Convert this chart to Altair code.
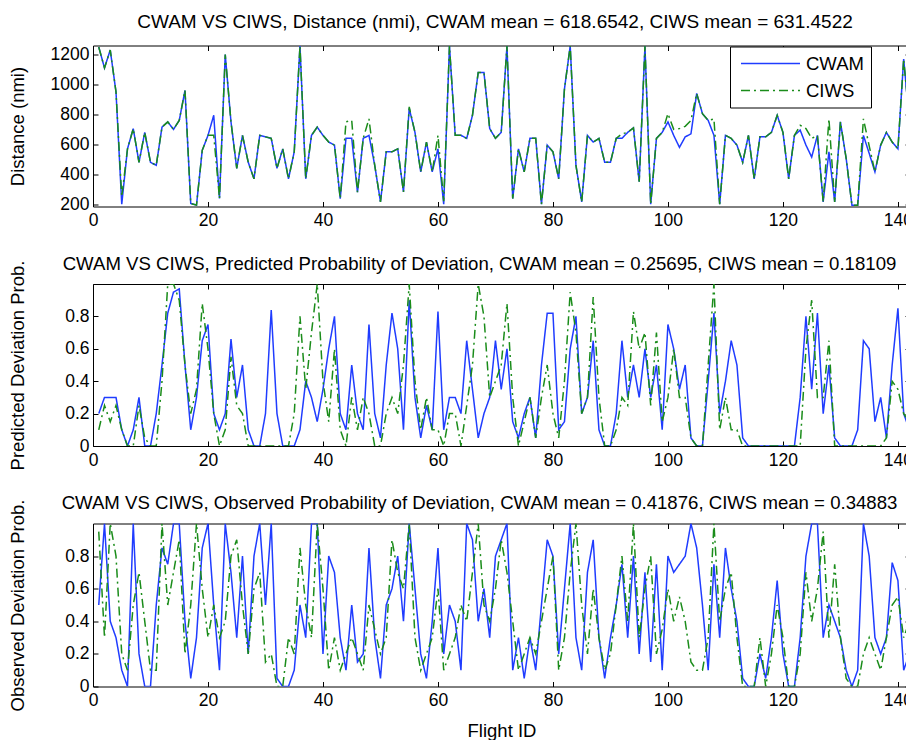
import altair as alt
import pandas as pd

flight = list(range(1, 143))

dist_cwam = [1250, 1110, 1230, 950, 200, 570, 705, 480, 680, 480, 460, 715, 750, 700, 760, 960, 205, 194, 560, 660,
             794, 238, 1200, 750, 440, 660, 480, 370, 660, 650, 640, 440, 570, 370, 550, 1256, 370, 660, 715, 660,
             615, 595, 238, 640, 640, 280, 640, 660, 460, 216, 550, 550, 570, 282, 840, 680, 416, 615, 416, 570,
             200, 1256, 660, 660, 640, 794, 1080, 1080, 705, 640, 680, 1256, 238, 570, 416, 640, 640, 200, 595, 550,
             370, 970, 1256, 460, 216, 660, 615, 640, 480, 480, 640, 640, 680, 710, 350, 1256, 200, 640, 680, 750,
             660, 580, 650, 670, 940, 805, 760, 660, 200, 660, 640, 595, 480, 660, 370, 650, 650, 680, 794, 680,
             370, 660, 695, 595, 515, 660, 216, 550, 216, 750, 505, 194, 194, 660, 540, 416, 595, 680, 615, 570,
             1170, 750]
dist_ciws = [1250, 1110, 1230, 950, 250, 570, 705, 480, 680, 480, 460, 715, 750, 700, 760, 960, 205, 194, 560, 660,
             660, 238, 1200, 750, 440, 660, 480, 370, 660, 650, 640, 440, 570, 370, 550, 1256, 370, 660, 715, 660,
             615, 595, 238, 750, 760, 280, 640, 770, 460, 216, 550, 550, 570, 282, 850, 680, 416, 615, 416, 660,
             220, 1256, 660, 660, 640, 794, 1080, 1080, 705, 640, 680, 1256, 238, 570, 416, 640, 640, 200, 595, 550,
             370, 970, 1256, 460, 216, 660, 615, 640, 480, 480, 640, 670, 680, 710, 350, 1256, 200, 640, 680, 805,
             700, 705, 720, 760, 940, 805, 760, 770, 200, 660, 640, 595, 480, 660, 370, 650, 650, 680, 794, 680,
             370, 660, 727, 705, 640, 660, 216, 770, 216, 750, 505, 194, 194, 770, 590, 416, 595, 680, 615, 570,
             1170, 750]

pred_cwam = [0.2, 0.3, 0.3, 0.3, 0.1, 0, 0.1, 0.3, 0, 0, 0.2, 0.5, 0.82, 0.95, 0.97, 0.5, 0.1, 0.3, 0.65, 0.75,
             0.2, 0.1, 0.2, 0.66, 0.3, 0.5, 0.1, 0, 0, 0.2, 0.84, 0.2, 0, 0, 0, 0.1, 0.4, 0.3, 0.15, 0.35,
             0.6, 0.8, 0.2, 0.1, 0.5, 0.2, 0.1, 0.75, 0.2, 0.05, 0.5, 0.82, 0.6, 0.1, 0.9, 0.3, 0.05, 0.25, 0.1, 0.83,
             0.1, 0.3, 0.3, 0.2, 0.65, 0.35, 0.05, 0.2, 0.3, 0.65, 0.35, 0.6, 0.15, 0.05, 0.2, 0.3, 0.05, 0.5, 0.82, 0.82,
             0.1, 0.15, 0.6, 0.8, 0.2, 0.3, 0.65, 0.1, 0, 0, 0.2, 0.65, 0.3, 0.5, 0.3, 0.6, 0.3, 0.5, 0.1, 0.75,
             0.6, 0.35, 0.5, 0.05, 0, 0, 0.4, 0.82, 0.2, 0.4, 0.65, 0.5, 0.05, 0, 0, 0, 0, 0, 0, 0,
             0, 0, 0.3, 0.8, 0.35, 0.82, 0.2, 0.5, 0.05, 0, 0, 0, 0.1, 0.65, 0.6, 0.15, 0.3, 0.05, 0.5, 0.85,
             0.2, 0.1]
pred_ciws = [0.1, 0.25, 0.15, 0.25, 0.1, 0, 0, 0.25, 0.05, 0, 0, 0.4, 1.0, 1.0, 0.9, 0.5, 0.2, 0.35, 0.88, 0.6,
             0.2, 0, 0.1, 0.55, 0.25, 0.2, 0, 0, 0, 0, 0, 0, 0, 0, 0.2, 0.8, 0.35, 0.7, 1.0, 0.4,
             0.15, 0.6, 0.1, 0, 0.3, 0.1, 0.3, 0.2, 0, 0, 0.2, 0.3, 0.2, 0.5, 1.0, 0.4, 0.1, 0.3, 0.1, 0.1,
             0, 0.2, 0.2, 0, 0.25, 0.5, 1.0, 0.8, 0.3, 0.4, 0.5, 0.88, 0.3, 0, 0.15, 0.3, 0.05, 0.3, 0.5, 0.2,
             0.05, 0.4, 0.95, 0.7, 0.2, 0.3, 0.92, 0.3, 0, 0, 0.1, 0.3, 0.25, 0.83, 0.6, 0.7, 0.25, 0.7, 0.15, 0.3,
             0.6, 0.3, 0.3, 0.05, 0, 0, 0.5, 1.0, 0.1, 0.3, 0.1, 0.1, 0, 0, 0, 0, 0, 0, 0, 0,
             0, 0, 0, 0.6, 0.9, 0.3, 0.3, 0.65, 0, 0, 0, 0, 0, 0, 0, 0, 0, 0.05, 0.4, 0.35,
             0.2, 0.15]

obs_cwam = [0.5, 1.0, 0.4, 0.3, 0.1, 0, 1.0, 0.2, 0, 0, 0.5, 0.85, 0.75, 1.0, 1.0, 0.4, 0.05, 0.3, 0.85, 1.0,
            0.5, 0.1, 1.0, 0.7, 0.3, 0.8, 0.2, 0.8, 1.0, 0.5, 1.0, 0.05, 0, 0, 0.1, 0.5, 0.3, 1.0, 1.0, 0.2,
            0.8, 0.7, 0.3, 0.1, 0.5, 0.15, 0.2, 0.85, 0.3, 0.05, 0.5, 0.6, 0.8, 0.4, 1.0, 0.6, 0.2, 0.05, 0.4, 0.85,
            0.2, 0.5, 0.4, 0.1, 1.0, 0.9, 0.4, 0.6, 0.3, 0.8, 0.9, 1.0, 0.1, 0.3, 0.05, 0.3, 0.1, 0.5, 0.9, 0.8,
            0.2, 0.6, 1.0, 0.3, 0.1, 0.7, 0.9, 0.3, 0.05, 0.3, 0.5, 0.75, 0.3, 0.8, 0.2, 0.7, 0.15, 0.75, 0.1, 0.8,
            0.7, 0.75, 0.8, 1.0, 0.85, 0.5, 0.1, 0.75, 0.3, 0.85, 0.6, 0.4, 0.05, 0, 0, 0.2, 0.05, 0.3, 0.65, 0.2,
            0, 0, 0.3, 0.8, 1.0, 1.0, 0.3, 0.5, 0.4, 0.3, 0.1, 0, 0.1, 1.0, 0.8, 0.3, 0.2, 0.3, 0.76, 0.65,
            0.1, 0.2]
obs_ciws = [0.95, 0.3, 1.0, 0.8, 0.2, 0.1, 0.5, 0.7, 0.4, 0.1, 0.1, 1.0, 0.5, 0.7, 0.9, 0.2, 0.5, 1.0, 0.6, 0.3,
            0.5, 0.3, 0.4, 0.8, 0.9, 0.5, 0.2, 0.6, 0.7, 0.15, 0.2, 0, 0, 0.3, 0.2, 0.85, 0.5, 0.3, 1.0, 0.6,
            0.1, 0.3, 0.1, 0.2, 0.3, 0.2, 0.1, 0.5, 0.35, 0.2, 0.3, 0.9, 0.7, 0.6, 1.0, 0.3, 0.1, 0.2, 0.3, 0.6,
            0.1, 0.2, 0.3, 0.5, 0.4, 0.7, 1.0, 0.5, 0.4, 0.6, 0.9, 0.7, 0.4, 0.1, 0.2, 0.3, 0.2, 0.4, 0.6, 0.8,
            0.1, 0.3, 0.7, 1.0, 0.5, 0.2, 0.6, 0.3, 0.1, 0.2, 0.5, 0.8, 0.4, 1.0, 0.3, 0.6, 0.8, 0.2, 0.35, 0.6,
            0.4, 0.55, 0.4, 0.15, 0.1, 0.1, 0.3, 1.0, 0.4, 0.6, 0.7, 0.3, 0, 0, 0, 0.3, 0, 0.2, 0.5, 0.3,
            0, 0, 0.2, 0.7, 0.4, 0.6, 0.95, 0.3, 0.75, 0.3, 0.05, 0, 0, 0.2, 0.3, 0.2, 0.1, 0.3, 0.5, 0.55,
            0.3, 0.4]

series_names = ["CWAM", "CIWS"]
series_colors = ["#1f3cff", "#1a8c1a"]
series_dash = [[1, 0], [9, 4, 2, 4]]

x_ticks = [0, 20, 40, 60, 80, 100, 120, 140]
dist_ticks = [200, 400, 600, 800, 1000, 1200]
prob_ticks = [0, 0.2, 0.4, 0.6, 0.8]

FONT = "Liberation Sans"
PLOT_W = 817
X_MAX = 142.1


def panel(cwam, ciws, title, title_x, title_y, title_size, ytitle, ydomain, yticks, yformat, height, legend,
          xtitle):
    df = pd.DataFrame({
        "flight": flight + flight,
        "value": cwam + ciws,
        "series": ["CWAM"] * len(flight) + ["CIWS"] * len(flight),
    })
    color = alt.Color("series:N", scale=alt.Scale(domain=series_names, range=series_colors), legend=legend)
    dash = alt.StrokeDash("series:N", scale=alt.Scale(domain=series_names, range=series_dash), legend=legend)
    xscale = alt.Scale(domain=[0, X_MAX], nice=False, zero=False)
    yscale = alt.Scale(domain=ydomain, nice=False, zero=False)
    bottom_kw = dict(values=x_ticks, orient="bottom", tickSize=5, offset=-5, domain=False, grid=False,
                     labelPadding=5, labelFlush=False, labelOverlap=False)
    if xtitle:
        x_bottom = alt.X("flight:Q", scale=xscale,
                         axis=alt.Axis(title=xtitle, titleY=55, titleBaseline="alphabetic", **bottom_kw))
    else:
        x_bottom = alt.X("flight:Q", scale=xscale, axis=alt.Axis(title=None, **bottom_kw))
    y_left = alt.Y("value:Q", scale=yscale,
                   axis=alt.Axis(values=yticks, orient="left", title=ytitle, format=yformat, tickSize=5,
                                 offset=-5, domain=False, grid=False, labelPadding=4, titleX=-74.5,
                                 titleY=height / 2, titleBaseline="alphabetic", titleAngle=270,
                                 titleAlign="center", labelFlush=False, labelOverlap=False))
    x_top = alt.X("flight:Q", scale=xscale,
                  axis=alt.Axis(values=x_ticks, orient="top", title=title, labels=False, tickSize=5, offset=-5,
                                domain=False, grid=False, titleX=title_x, titleY=title_y,
                                titleBaseline="alphabetic", titleAlign="center", titleFontSize=title_size))
    y_right = alt.Y("value:Q", scale=yscale,
                    axis=alt.Axis(values=yticks, orient="right", title=None, labels=False, tickSize=5,
                                  offset=-5, domain=False, grid=False))
    base = alt.Chart(df)
    l1 = base.mark_line(strokeWidth=1.5, clip=True).encode(
        x=x_bottom, y=y_left, color=color, strokeDash=dash
    ).transform_filter(alt.datum.series == "CWAM")
    l2 = base.mark_line(strokeWidth=1.5, clip=True).encode(
        x=x_top, y=y_right, color=color, strokeDash=dash
    ).transform_filter(alt.datum.series == "CIWS")
    return alt.layer(l1, l2).resolve_axis(x="independent", y="independent").properties(
        width=PLOT_W, height=height
    )


legend = alt.Legend(orient="none", legendX=637, legendY=1, title=None, symbolType="M-0.65,0H5.73",
                    symbolSize=342, symbolStrokeWidth=1.5, labelOffset=49, padding=7, rowPadding=7,
                    strokeColor="black", fillColor="white", cornerRadius=0, labelFont=FONT,
                    labelFontSize=18.5, labelColor="black", labelExpr="datum.label + ' '")

p1 = panel(dist_cwam, dist_ciws,
           "CWAM VS CIWS, Distance (nmi), CWAM mean = 618.6542, CIWS mean = 631.4522", 401.5, -23.5, 19,
           "Distance (nmi)", [185, 1260], dist_ticks, "d", 161, legend, None)
p2 = panel(pred_cwam, pred_ciws,
           "CWAM VS CIWS, Predicted Probability of Deviation, CWAM mean = 0.25695, CIWS mean = 0.18109",
           386, -20, 18.6,
           "Predicted Deviation Prob.", [0, 1], prob_ticks, "~g", 162, None, None)
p3 = panel(obs_cwam, obs_ciws,
           "CWAM VS CIWS, Observed Probability of Deviation, CWAM mean = 0.41876, CIWS mean = 0.34883",
           386, -20.5, 18.6,
           "Observed Deviation Prob.", [0, 1], prob_ticks, "~g", 163, None, "Flight ID")

chart = alt.vconcat(p1, p2, p3, spacing=77.5, bounds="flush").resolve_scale(
    color="independent", strokeDash="independent"
).properties(
    padding={"left": 0, "top": 3.5, "right": -8, "bottom": 0}, background="white"
).configure_view(
    stroke="black", strokeWidth=1
).configure_axis(
    labelFont=FONT, labelFontSize=17.5, labelColor="black", titleFont=FONT, titleFontSize=18.5,
    titleFontWeight="normal", titleColor="black", tickColor="black", tickWidth=1
)

chart.save("out.html", embed_options={"renderer": "svg", "actions": False})
